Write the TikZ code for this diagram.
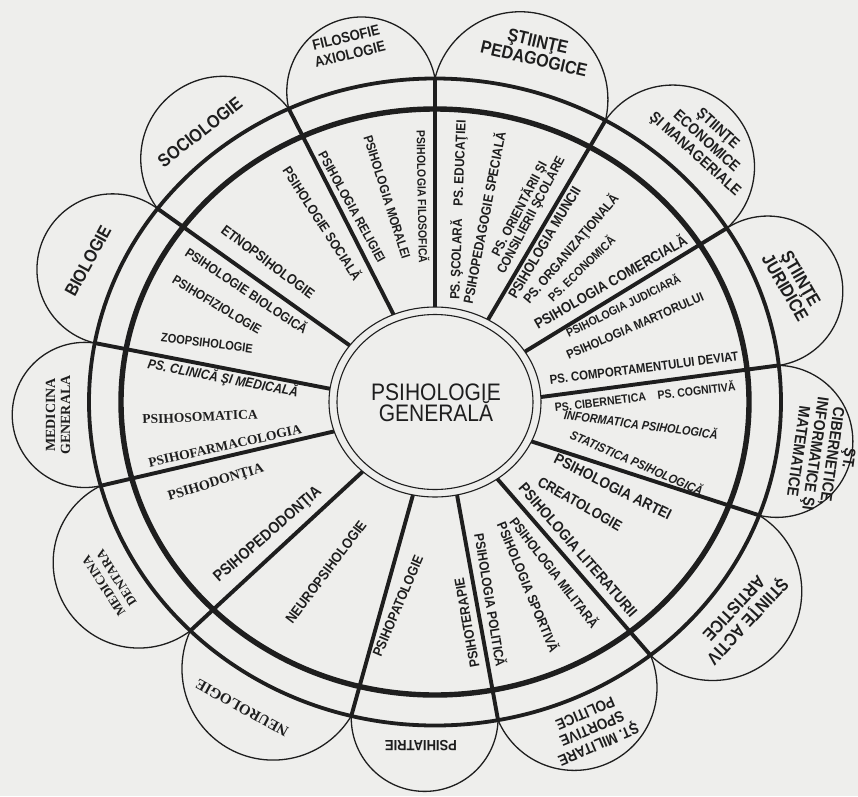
\documentclass[tikz,border=0pt]{standalone}
\usepackage{fontspec}
\setmainfont{Liberation Sans}
\newfontfamily\lsans{Liberation Sans}[FakeStretch=0.88]
\newfontfamily\serifbf{Liberation Serif}
\usetikzlibrary{calc}
\definecolor{paper}{RGB}{238,238,236}
\definecolor{ink}{RGB}{30,30,30}
% size given as the unstretched size, leading as is
\newcommand{\nfs}[2]{\fontsize{\fpeval{#1/0.88}}{#2}\selectfont}
\newcommand{\fsz}[2]{\fontsize{#1}{#2}\selectfont}

\begin{document}
\begin{tikzpicture}[x=1pt,y=1pt,
  ringout/.style={draw=ink,line width=3.8pt},
  ringin/.style={draw=ink,line width=5.4pt},
  spoke/.style={draw=ink,line width=3.9pt},
  core/.style={draw=ink,line width=1.1pt},
  petal/.style={draw=ink,line width=1.3pt},
  lab/.style={text=ink,inner sep=0pt},
  sans/.style={lab,font=\lsans\bfseries\nfs{#1}{#1}},
  ital/.style={lab,font=\lsans\bfseries\itshape\nfs{#1}{#1}},
  serif/.style={lab,font=\serifbf\bfseries\fsz{#1}{#1}},
  ]
\useasboundingbox (-435,-394) rectangle (423,402);
\clip (-435,-394) rectangle (423,402);
\fill[paper] (-435,-394) rectangle (423,402);

% spoke ends on the outer ring and on the core
\foreach \n/\to/\ti in {1/90/90,2/115/113,3/143.3/143.5,4/169.5/172,5/195/198,
  6/225/227,7/256/258,8/280.5/282,9/308.5/306,10/339.5/335.5,11/6.5/3,
  12/32.5/32,13/60.5/60}{
  \coordinate (o\n) at (\to:346 and 323.5);
  \coordinate (i\n) at (\ti:106 and 95);
}

% petals (last value: how far the centre sits outside the chord)
\foreach \a/\b/\d in {1/2/2,2/3/0,3/4/15,4/5/13,5/6/8,6/7/-5,7/8/0,8/9/0,
  9/10/10,10/11/8,11/12/16,12/13/10,13/1/0}{
  \draw[petal] let \p1=($(o\a)-(o\b)$), \n1={veclen(\x1,\y1)/2} in
    ($(o\a)!0.5!(o\b)!\d pt!-90:(o\b)$) circle[radius={sqrt(\n1*\n1+\d*\d)}];
}
\fill[paper] (0,0) ellipse[x radius=346,y radius=323.5];

% rings and spokes
\draw[ringout] (0,0) ellipse[x radius=346,y radius=323.5];
\draw[ringin] (0,0) ellipse[x radius=314,y radius=293];
\foreach \n in {1,...,13}
  \draw[spoke] (i\n) -- (o\n);
\draw[core,fill=paper] (0,0) ellipse[x radius=106,y radius=95];
\draw[core] (0,0) ellipse[x radius=98,y radius=87.5];

\node[lab,font=\lsans\nfs{21}{21},align=center] (gen) at (1,-1) {PSIHOLOGIE\\GENERALĂ};

% sector labels
\node[sans=10.5,rotate=-89] (lfil) at (-12,205) {PSIHOLOGIA FILOSOFICĂ};
\node[sans=11.5,rotate=-72.5] (lmor) at (-48,205) {PSIHOLOGIA MORALEI};
\node[sans=11.5,rotate=-61] (lrel) at (-83,195) {PSIHOLOGIA RELIGIEI};
\node[sans=12,rotate=-57] (lsoc) at (-112,179) {PSIHOLOGIE SOCIALĂ};
\node[sans=12.5,rotate=-37] (letn) at (-167,140) {ETNOPSIHOLOGIE};
\node[sans=11.8,rotate=-33.7] (lbio) at (-188,112) {PSIHOLOGIE BIOLOGICĂ};
\node[sans=11.5,rotate=-31] (lfiz) at (-218,97) {PSIHOFIZIOLOGIE};
\node[sans=11,rotate=-7.5] (lzoo) at (-228,59) {ZOOPSIHOLOGIE};
\node[ital=12,rotate=-10.8] (lcli) at (-212,24) {PS. CLINICĂ ŞI MEDICALĂ};
\node[serif=13.5,rotate=2.5] (lsom) at (-235,-15) {PSIHOSOMATICA};
\node[serif=13.5,rotate=12.6] (lfar) at (-210,-44) {PSIHOFARMACOLOGIA};
\node[serif=14,rotate=17] (ldon) at (-219,-81) {PSIHODONŢIA};
\node[sans=14,rotate=41] (lped) at (-167,-133) {PSIHOPEDODONŢIA};
\node[sans=12.6,rotate=53] (lneu) at (-109,-170) {NEUROPSIHOLOGIE};
\node[sans=12.3,rotate=67] (lpat) at (-37,-204) {PSIHOPATOLOGIE};
\node[sans=12.2,rotate=100] (lter) at (32,-221) {PSIHOTERAPIE};
\node[sans=12,rotate=-80.7] (lpol) at (56,-198) {PSIHOLOGIA POLITICĂ};
\node[sans=12,rotate=-67.5] (lspo) at (94,-185) {PSIHOLOGIA SPORTIVĂ};
\node[sans=12,rotate=-52.3] (lmil) at (120,-170) {PSIHOLOGIA MILITARĂ};
\node[sans=13.5,rotate=-49] (llit) at (143,-148) {PSIHOLOGIA LITERATURII};
\node[sans=13,rotate=-29.7] (lcre) at (145,-102) {CREATOLOGIE};
\node[sans=13.5,rotate=-26.6] (lart) at (178,-85) {PSIHOLOGIA ARTEI};
\node[ital=11,rotate=-23.6] (lsta) at (202,-60) {STATISTICA PSIHOLOGICĂ};
\node[ital=10.9,rotate=-7.4] (linf) at (206,-22) {INFORMATICA PSIHOLOGICĂ};
\node[sans=10.5,rotate=6.8] (lcib) at (210,6) {PS. CIBERNETICA\hspace{12pt}PS. COGNITIVĂ};
\node[sans=11.4,rotate=7.4] (ldev) at (209,34) {PS. COMPORTAMENTULUI DEVIAT};
\node[sans=11.2,rotate=23.8] (lmar) at (200,76) {PSIHOLOGIA MARTORULUI};
\node[sans=10.5,rotate=26.4] (ljud) at (188,97) {PSIHOLOGIA JUDICIARĂ};
\node[sans=13,rotate=29.8] (lcom) at (175,121) {PSIHOLOGIA COMERCIALĂ};
\node[sans=10.8,rotate=44] (leco) at (146,134) {PS. ECONOMICĂ};
\node[sans=11.9,rotate=49.7] (lorg) at (136,153) {PS. ORGANIZAŢIONALĂ};
\node[sans=12.6,rotate=59.2] (lmun) at (109.5,159.5) {PSIHOLOGIA MUNCII};
\node[lab,font=\lsans\bfseries\nfs{11.7}{13},align=center,rotate=62.3] (lori) at (90,190)
  {PS. ORIENTĂRII ŞI\\CONSILIERII ŞCOLARE};
\node[sans=11.8,rotate=88] (lsco) at (23,192) {PS. ŞCOLARĂ\hspace{13pt}PS. EDUCAŢIEI};
\node[sans=12,rotate=79] (lpsp) at (48.5,184.5) {PSIHOPEDAGOGIE SPECIALĂ};

% petal labels
\node[lab,font=\lsans\bfseries\nfs{13}{17},align=center,rotate=13.5] (pfil) at (-87,356) {FILOSOFIE\\AXIOLOGIE};
\node[sans=16,rotate=38] (psoc) at (-235,270) {SOCIOLOGIE};
\node[sans=15.8,rotate=61.4] (pbio) at (-347,141) {BIOLOGIE};
\node[lab,font=\serifbf\bfseries\fsz{14}{15},align=center,rotate=90] (pmeg) at (-377,-13) {MEDICINA\\GENERALA};
\node[lab,font=\serifbf\bfseries\fsz{13}{15},align=center,rotate=123] (pmed) at (-325,-180) {MEDICINA\\DENTARA};
\node[serif=15,rotate=151] (pnrl) at (-193,-306) {NEUROLOGIE};
\node[sans=13,rotate=180] (ppsi) at (-14,-344) {PSIHIATRIE};
\node[lab,font=\lsans\bfseries\nfs{13.5}{17},align=center,rotate=203] (pmil) at (157,-327) {ŞT. MILITARE\\SPORTIVE\\POLITICE};
\node[lab,font=\lsans\bfseries\nfs{15.5}{19},align=center,rotate=227] (part) at (306,-213) {ŞTIINŢE ACTIV\\ARTISTICE};
\node[lab,font=\lsans\bfseries\nfs{14}{17},align=center,rotate=-98] (pcib) at (389,-53) {ŞT.\\CIBERNETICE,\\INFORMATICE ŞI\\MATEMATICE};
\node[lab,font=\lsans\bfseries\nfs{16}{18},align=center,rotate=-60] (pjur) at (358,119) {ŞTIINŢE\\JURIDICE};
\node[lab,font=\lsans\bfseries\nfs{13.5}{17},align=center,rotate=-42] (peco) at (271,260) {ŞTIINŢE\\ECONOMICE\\ŞI MANAGERIALE};
\node[lab,font=\lsans\bfseries\nfs{16}{18},align=center,rotate=-13] (pped) at (101,352) {ŞTIINŢE\\PEDAGOGICE};
\end{tikzpicture}
\end{document}
